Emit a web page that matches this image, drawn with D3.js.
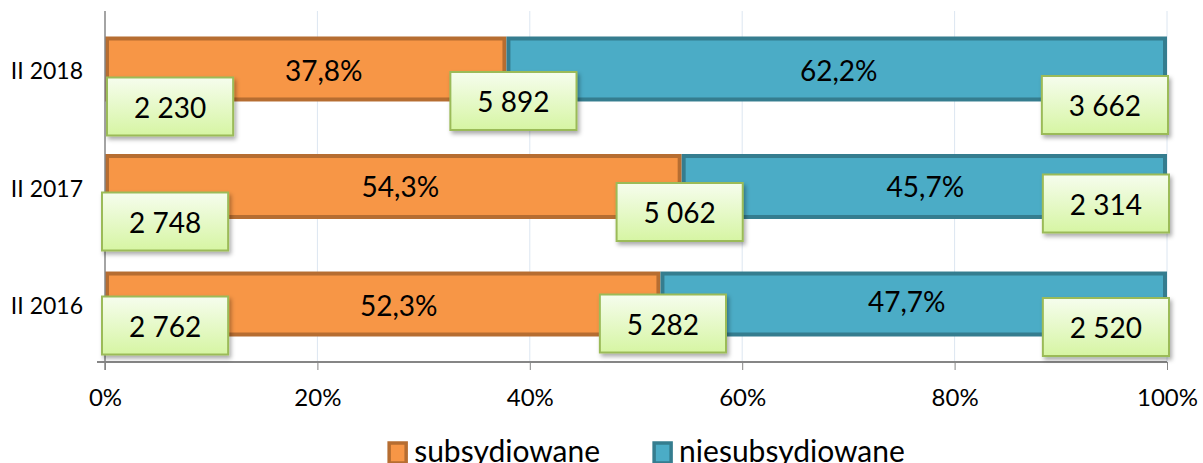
<!DOCTYPE html>
<html><head><meta charset="utf-8">
<script src="https://cdn.jsdelivr.net/npm/d3@7"></script>
<style>
html,body{margin:0;padding:0;background:#fff;}
svg{display:block;font-family:Lato,"Open Sans",sans-serif;}
</style></head>
<body>
<svg id="chart" width="1203" height="463"></svg>
<script>
// ---- data ----
const categories = ["II 2018", "II 2017", "II 2016"];
const subsidizedShare = [37.8, 54.3, 52.3];
const unsubsidizedShare = [62.2, 45.7, 47.7];
const subsidizedCount = [2230, 2748, 2762];
const unsubsidizedCount = [3662, 2314, 2520];
const totalCount = [5892, 5062, 5282];
const xTicks = [0, 20, 40, 60, 80, 100];
const seriesNames = ["subsydiowane", "niesubsydiowane"];

// ---- style / layout ----
const W = 1203, H = 463;
const plot = {left: 105, right: 1167, top: 11, bottom: 362};
const colors = {
  sub: "#F79646", subStroke: "#B66D31",
  uns: "#4BACC6", unsStroke: "#357D8F",
  grid: "#DCE6F1", axis: "#868686"
};
// label layout nudges (box center offset below bar center / horizontal nudge)
const nudgeLeft = [{dx: 2, dy: 37.5}, {dx: -3, dy: 35}, {dx: -3, dy: 21.5}];
const nudgeMid  = [{dx: 7, dy: 32}, {dx: -2, dy: 25.5}, {dx: 2.5, dy: 19.5}];
const nudgeRight= [{dx: 1, dy: 36}, {dx: 2, dy: 17}, {dx: 2, dy: 23}];

const loc = d3.formatLocale({decimal: ",", thousands: "\u00a0", grouping: [3], currency: ["", ""]});
const fmtInt = loc.format(",d");
const fmtPct = loc.format(".1f");

const svg = d3.select("#chart");
const defs = svg.append("defs");
const grad = defs.append("linearGradient").attr("id", "boxg").attr("x1", 0).attr("y1", 0).attr("x2", 0).attr("y2", 1);
grad.append("stop").attr("offset", "0%").attr("stop-color", "#F6FDEE");
grad.append("stop").attr("offset", "100%").attr("stop-color", "#D6F5A3");
const flt = defs.append("filter").attr("id", "shadow").attr("x", "-20%").attr("y", "-20%").attr("width", "150%").attr("height", "160%");
flt.append("feDropShadow").attr("dx", 2).attr("dy", 3).attr("stdDeviation", 2.2).attr("flood-color", "#000").attr("flood-opacity", 0.33);

const x = d3.scaleLinear().domain([0, 100]).range([plot.left, plot.right]);
const y = d3.scaleBand().domain(categories).range([plot.top, plot.bottom]).paddingInner(0.447).paddingOuter(0.217);

// gridlines
svg.append("g").selectAll("line").data(xTicks.filter(d => d > 0)).join("line")
  .attr("x1", d => x(d)).attr("x2", d => x(d))
  .attr("y1", plot.top).attr("y2", plot.bottom)
  .attr("stroke", colors.grid).attr("stroke-width", 1);

// bars
const bw = y.bandwidth();
const sw = 4;
const rows = categories.map((c, i) => ({c, i, s: subsidizedShare[i], u: unsubsidizedShare[i]}));
const gb = svg.append("g");
gb.selectAll("rect.sub").data(rows).join("rect").attr("class", "sub")
  .attr("x", d => x(0) + sw / 2).attr("y", d => y(d.c) + sw / 2)
  .attr("width", d => x(d.s) - x(0) - sw).attr("height", bw - sw)
  .attr("fill", colors.sub).attr("stroke", colors.subStroke).attr("stroke-width", sw);
gb.selectAll("rect.uns").data(rows).join("rect").attr("class", "uns")
  .attr("x", d => x(d.s) + sw / 2).attr("y", d => y(d.c) + sw / 2)
  .attr("width", d => x(d.s + d.u) - x(d.s) - sw).attr("height", bw - sw)
  .attr("fill", colors.uns).attr("stroke", colors.unsStroke).attr("stroke-width", sw);

// percent labels
const pctFont = 28;
gb.selectAll("text.ps").data(rows).join("text")
  .attr("x", d => (x(0) + x(d.s)) / 2 + [18, 7, 16][d.i]).attr("y", d => y(d.c) + bw / 2 + [2, 0, 2][d.i])
  .attr("dy", "0.36em").attr("text-anchor", "middle").attr("font-size", pctFont).attr("fill", "#000")
  .text(d => fmtPct(d.s) + "%");
gb.selectAll("text.pu").data(rows).join("text")
  .attr("x", d => (x(d.s) + x(d.s + d.u)) / 2 + [2, 1, -7][d.i]).attr("y", d => y(d.c) + bw / 2 + [2, 0, -2][d.i])
  .attr("dy", "0.36em").attr("text-anchor", "middle").attr("font-size", pctFont).attr("fill", "#000")
  .text(d => fmtPct(d.u) + "%");

// axes
const axisG = svg.append("g");
axisG.append("line").attr("x1", plot.left).attr("x2", plot.left).attr("y1", plot.top).attr("y2", plot.bottom + 8)
  .attr("stroke", colors.axis).attr("stroke-width", 1.5);
const xAxis = d3.axisBottom(x).tickValues(xTicks).tickSize(8).tickSizeOuter(0).tickPadding(19).tickFormat(d => d + "%");
const gx = axisG.append("g").attr("transform", `translate(0,${plot.bottom})`).call(xAxis);
gx.select(".domain").attr("stroke", colors.axis).attr("stroke-width", 2).attr("d", `M${plot.left - 8},0H${plot.right}`);
gx.selectAll(".tick line").attr("stroke", colors.axis).attr("stroke-width", 1);
gx.selectAll(".tick text").attr("font-size", 24).attr("font-family", "Lato, sans-serif").attr("fill", "#000");

// category labels
axisG.selectAll("text.cat").data(categories).join("text")
  .attr("x", plot.left - 22).attr("y", d => y(d) + bw / 2 + 2).attr("dy", "0.36em")
  .attr("text-anchor", "end").attr("font-size", 23).attr("fill", "#000").text(d => d);

// value label boxes
const boxFont = 28, boxH = 58, padX = 27;
const gl = svg.append("g");
function box(cx, cy, txt, anchor) {
  const g = gl.append("g");
  const t = g.append("text").attr("font-size", boxFont).attr("text-anchor", "middle").attr("dy", "0.36em").text(txt);
  const tw = t.node().getComputedTextLength();
  const bwid = tw + 2 * padX;
  let left = anchor === "start" ? cx : anchor === "end" ? cx - bwid : cx - bwid / 2;
  g.insert("rect", "text").attr("x", left).attr("y", cy - boxH / 2).attr("width", bwid).attr("height", boxH)
    .attr("fill", "url(#boxg)").attr("stroke", "#9BBB59").attr("stroke-width", 2).attr("filter", "url(#shadow)");
  t.attr("x", left + bwid / 2).attr("y", cy + 1);
}
rows.forEach(d => {
  const cy = y(d.c) + bw / 2;
  box(x(0) + nudgeLeft[d.i].dx, cy + nudgeLeft[d.i].dy, fmtInt(subsidizedCount[d.i]), "start");
  box(x(d.s) + nudgeMid[d.i].dx, cy + nudgeMid[d.i].dy, fmtInt(totalCount[d.i]), "middle");
  box(x(100) + nudgeRight[d.i].dx, cy + nudgeRight[d.i].dy, fmtInt(unsubsidizedCount[d.i]), "end");
});

// legend
const lg = svg.append("g");
const legFont = 30;
const items = [
  {name: seriesNames[0], fill: colors.sub, stroke: colors.subStroke},
  {name: seriesNames[1], fill: colors.uns, stroke: colors.unsStroke}
];
let lx = 0;
items.forEach((it, k) => {
  const g = lg.append("g");
  g.append("rect").attr("x", 2).attr("y", -19).attr("width", 17).attr("height", 20)
    .attr("fill", it.fill).attr("stroke", it.stroke).attr("stroke-width", 3.5);
  const t = g.append("text").attr("x", 27).attr("y", 0).attr("font-size", legFont).attr("fill", "#000").text(it.name);
  const w = 27 + t.node().getComputedTextLength();
  g.attr("transform", `translate(${lx},0)`);
  lx += w + 52;
});
const totalW = lx - 52;
lg.attr("transform", `translate(${(plot.left + plot.right) / 2 + 10 - totalW / 2},462)`);
</script>
</body></html>
